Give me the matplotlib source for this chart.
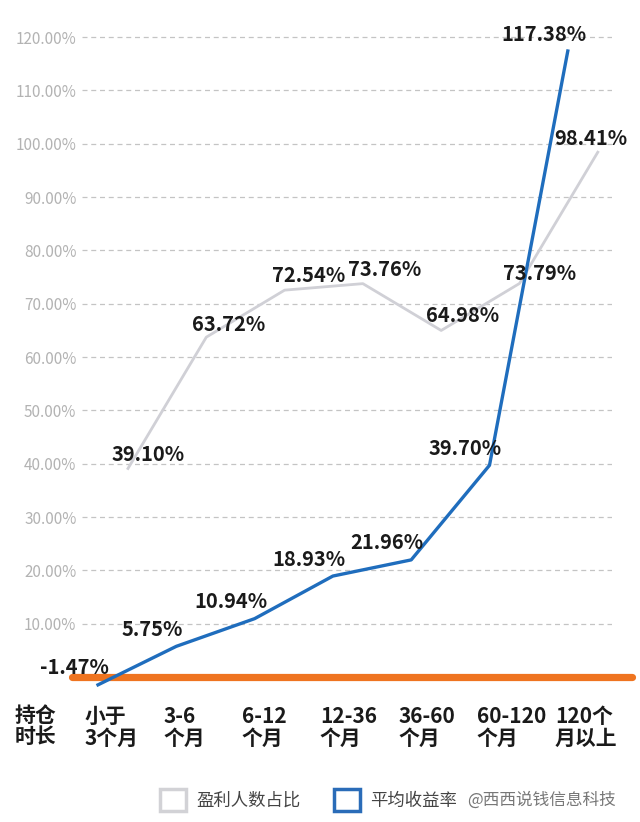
import matplotlib
matplotlib.use("Agg")
import matplotlib.pyplot as plt
from matplotlib.patches import Patch
from matplotlib.ticker import FixedLocator

plt.rcParams['font.family'] = ['Noto Sans CJK SC', 'DejaVu Sans']

# ---- data ----
categories = ["小于\n3个月", "3-6\n个月", "6-12\n个月", "12-36\n个月", "36-60\n个月", "60-120\n个月", "120个\n月以上"]
profit_share = [39.10, 63.72, 72.54, 73.76, 64.98, 73.79, 98.41]      # 盈利人数占比
avg_return = [-1.47, 5.75, 10.94, 18.93, 21.96, 39.70, 117.38]        # 平均收益率
y_ticks = [10, 20, 30, 40, 50, 60, 70, 80, 90, 100, 110, 120]
row_header = "持仓\n时长"
legend_labels = ["盈利人数占比", "平均收益率"]
watermark = "@西西说钱信息科技"

# ---- figure ----
W, H = 640, 822
fig = plt.figure(figsize=(W / 100, H / 100), dpi=100)
fig.patch.set_facecolor("white")

ax_left_px, ax_right_px = 82, 612
y0_px, px_per_unit = 677, 5.333
ymin, ymax = -5, 125
top_px = y0_px - ymax * px_per_unit
bot_px = y0_px - ymin * px_per_unit
ax = fig.add_axes([ax_left_px / W, 1 - bot_px / H,
                   (ax_right_px - ax_left_px) / W, (bot_px - top_px) / H])
ax.set_facecolor("white")

x0_px, step_px = 98, 78.3
ax.set_xlim((ax_left_px - x0_px) / step_px, (ax_right_px - x0_px) / step_px)
ax.set_ylim(ymin, ymax)

idx = list(range(len(categories)))
gray_off = 0.383
blue_x = [i for i in idx]
gray_x = [i + gray_off for i in idx]

for s in ax.spines.values():
    s.set_visible(False)

# grid
ax.yaxis.set_major_locator(FixedLocator(y_ticks))
ax.set_yticklabels([f"{v:.2f}%" for v in y_ticks])
ax.tick_params(axis='y', length=0, pad=4, labelsize=11, labelcolor="#b3b3b3")
ax.yaxis.grid(True, linestyle=(0, (4, 3)), color="#c4c4c4", linewidth=0.9)
ax.set_axisbelow(True)

# x tick labels
ax.set_xticks([i - 0.166 for i in idx])
ax.set_xticklabels(categories, ha="left", fontsize=15, fontweight="bold",
                   color="#1a1a1a", linespacing=1.0)
ax.tick_params(axis='x', length=0, pad=2)

# zero line (orange)
ax.plot([(72 - x0_px) / step_px, (632 - x0_px) / step_px], [0, 0],
        color="#ef7420", linewidth=5.2, solid_capstyle="round",
        clip_on=False, zorder=2)

# series
ax.plot(gray_x, profit_share, color="#d0d0d6", linewidth=2.0, zorder=3, clip_on=False)
ax.plot(blue_x, avg_return, color="#1f6dbd", linewidth=2.4, zorder=4, clip_on=False)

lab_kw = dict(textcoords="offset pixels", ha="center", va="center",
              fontsize=14.5, fontweight="bold", color="#1a1a1a", zorder=6)
for x, v in zip(blue_x, avg_return):
    ax.annotate(f"{v:.2f}%", (x, v), xytext=(-24, 17), **lab_kw)
gray_offsets = [(20, 14), (22, 13), (24, 15), (22, 14), (21, 15), (20, 10), (-7, 14)]
for (x, v), (dx, dy) in zip(zip(gray_x, profit_share), gray_offsets):
    ax.annotate(f"{v:.2f}%", (x, v), xytext=(dx, dy), **lab_kw)

# row header
fig.text(15 / W, 1 - 705 / H, row_header, ha="left", va="top", fontsize=15,
         fontweight="bold", color="#1a1a1a", linespacing=1.0)

# legend
handles = [Patch(facecolor="white", edgecolor="#d2d2d6", linewidth=2.5),
           Patch(facecolor="white", edgecolor="#2a6cb8", linewidth=2.5)]
fig.legend(handles, legend_labels, loc="center left",
           bbox_to_anchor=(160 / W, 1 - 800 / H), ncol=2, frameon=False,
           fontsize=12.5, handlelength=1.5, handleheight=1.5,
           handletextpad=0.6, columnspacing=1.9, borderpad=0, borderaxespad=0,
           labelcolor="#444444")

fig.text(467 / W, 1 - 800 / H, watermark, ha="left", va="center",
         fontsize=12, color="#777777")

fig.savefig("out.png", dpi=100, facecolor="white")
